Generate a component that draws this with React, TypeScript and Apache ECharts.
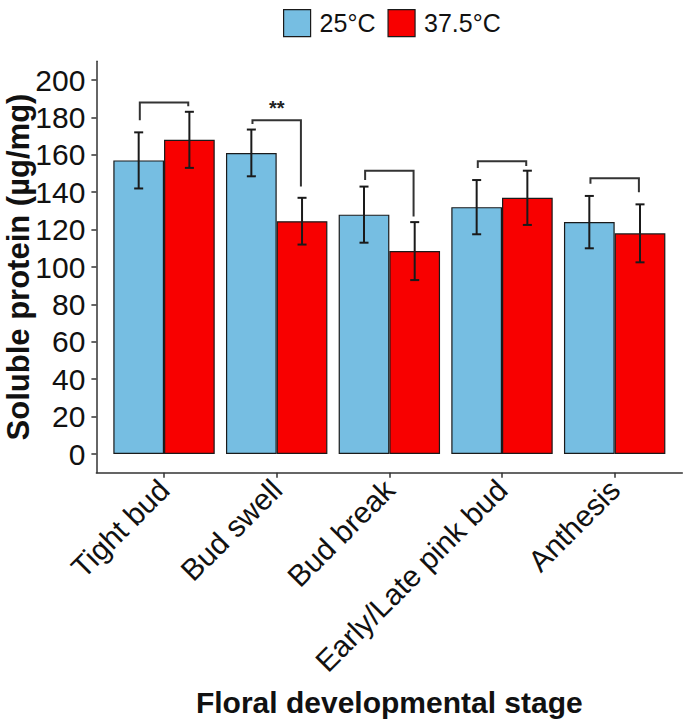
import React, { useEffect, useRef } from "react";
import * as echarts from "echarts";

const categories = ["Tight bud", "Bud swell", "Bud break", "Early/Late pink bud", "Anthesis"];
const seriesNames = ["25°C", "37.5°C"];
const mean25 = [157, 161, 128, 132, 124];
const sd25 = [15, 12.5, 15, 14.5, 14];
const mean375 = [168, 124.5, 108.5, 137, 118];
const sd375 = [15, 12.5, 15.5, 14.5, 15.5];
const bracketTop = [188, 178.5, 151.5, 156.5, 147.5];
const bracketLeftEnd = [178.5, 176.5, 146.5, 153, 144.5];
const bracketRightEnd = [186, 143, 127, 154, 140];
const sigLabels = ["", "**", "", "", ""];
const yTicks = [0, 20, 40, 60, 80, 100, 120, 140, 160, 180, 200];

const FONT = "'Liberation Sans', Arial, Helvetica, sans-serif";
const INK = "#111111";
const BLUE = "#76BEE2";
const RED = "#F80000";

function errorBarRenderer(offset: number) {
  return (params: any, api: any) => {
    const i = api.value(0);
    const m = api.value(1);
    const s = api.value(2);
    const band = api.size([1, 0])[0];
    const cx = api.coord([i, m])[0] + offset * band;
    const yTop = api.coord([i, m + s])[1];
    const yBot = api.coord([i, m - s])[1];
    const hw = 0.04 * band;
    const st = { stroke: "#1a1a1a", lineWidth: 2 };
    return {
      type: "group",
      children: [
        { type: "line", shape: { x1: cx, y1: yTop, x2: cx, y2: yBot }, style: st },
        { type: "line", shape: { x1: cx - hw, y1: yTop, x2: cx + hw, y2: yTop }, style: st },
        { type: "line", shape: { x1: cx - hw, y1: yBot, x2: cx + hw, y2: yBot }, style: st },
      ],
    };
  };
}

function bracketRenderer(params: any, api: any) {
  const i = api.value(0);
  const top = api.value(1);
  const le = api.value(2);
  const re = api.value(3);
  const band = api.size([1, 0])[0];
  const c = api.coord([i, top]);
  const xl = c[0] - 0.215 * band;
  const xr = c[0] + 0.215 * band;
  const yt = c[1];
  const yl = api.coord([i, le])[1];
  const yr = api.coord([i, re])[1];
  const label = sigLabels[params.dataIndex];
  const children: any[] = [
    {
      type: "polyline",
      shape: { points: [[xl, yl], [xl, yt], [xr, yt], [xr, yr]] },
      style: { stroke: "#333333", lineWidth: 2, fill: "none" },
    },
  ];
  if (label) {
    children.push({
      type: "text",
      x: (xl + xr) / 2,
      y: yt - 2,
      style: {
        text: label,
        fontSize: 20,
        fontWeight: "bold",
        fontFamily: FONT,
        fill: "#222222",
        align: "center",
        verticalAlign: "bottom",
      },
    });
  }
  return { type: "group", children };
}

export default function App() {
  const ref = useRef<HTMLDivElement>(null);

  useEffect(() => {
    if (!ref.current) return;
    const chart = echarts.init(ref.current, undefined, { renderer: "svg" });
    const axisLineStyle = { color: "#333333", width: 1.5 };
    const option: any = {
      animation: false,
      backgroundColor: "#ffffff",
      textStyle: { fontFamily: FONT },
      legend: {
        data: seriesNames,
        left: 278,
        top: 4,
        itemWidth: 27,
        itemHeight: 27,
        itemGap: 12,
        icon: "rect",
        itemStyle: { borderColor: "#1a1a1a", borderWidth: 1.2 },
        textStyle: { fontSize: 25, color: INK, fontFamily: FONT, padding: [0, 0, 0, 4] },
      },
      grid: [
        { left: 96.4, right: 2.7, top: 61.3, bottom: 251.3, containLabel: false, outerBoundsMode: "none" },
        { left: 107.7, right: 14.0, top: 61.3, bottom: 251.3, containLabel: false, outerBoundsMode: "none" },
      ],
      xAxis: [
        {
          gridIndex: 0,
          type: "value",
          min: 0,
          max: 1,
          axisLine: { show: true, onZero: false, lineStyle: axisLineStyle },
          axisTick: { show: false },
          axisLabel: { show: false },
          splitLine: { show: false },
          name: "Floral developmental stage",
          nameLocation: "middle",
          nameGap: 215,
          nameMoveOverlap: false,
          nameTextStyle: { fontSize: 30, fontWeight: "bold", color: INK, fontFamily: FONT },
        },
        {
          gridIndex: 1,
          type: "category",
          data: categories,
          axisLine: { show: false, onZero: false },
          axisTick: { show: true, alignWithLabel: true, length: 5, lineStyle: { color: "#333333", width: 1.5 } },
          axisLabel: {
            rotate: 45,
            fontSize: 30,
            color: INK,
            fontFamily: FONT,
            margin: 12,
            interval: 0,
          },
          splitLine: { show: false },
        },
      ],
      yAxis: [
        {
          gridIndex: 0,
          type: "value",
          min: -10,
          max: 210,
          axisLine: { show: true, onZero: false, lineStyle: axisLineStyle },
          axisTick: { show: true, length: 5, lineStyle: { color: "#333333", width: 1.5 }, customValues: yTicks },
          axisLabel: { fontSize: 30, color: INK, fontFamily: FONT, margin: 11, customValues: yTicks },
          splitLine: { show: false },
          name: "Soluble protein (µg/mg)",
          nameLocation: "middle",
          nameRotate: 90,
          nameGap: 62,
          nameMoveOverlap: false,
          nameTextStyle: { fontSize: 31, fontWeight: "bold", color: INK, fontFamily: FONT },
        },
        {
          gridIndex: 1,
          type: "value",
          min: -10,
          max: 210,
          show: false,
          axisLine: { onZero: false },
          splitLine: { show: false },
        },
      ],
      series: [
        {
          name: seriesNames[0],
          type: "bar",
          xAxisIndex: 1,
          yAxisIndex: 1,
          data: mean25,
          barGap: "0%",
          barCategoryGap: "10%",
          itemStyle: { color: BLUE, borderColor: "#1a1a1a", borderWidth: 1.2 },
        },
        {
          name: seriesNames[1],
          type: "bar",
          xAxisIndex: 1,
          yAxisIndex: 1,
          data: mean375,
          barGap: "0%",
          barCategoryGap: "10%",
          itemStyle: { color: RED, borderColor: "#1a1a1a", borderWidth: 1.2 },
        },
        {
          name: "err25",
          type: "custom",
          xAxisIndex: 1,
          yAxisIndex: 1,
          z: 5,
          renderItem: errorBarRenderer(-0.225),
          data: mean25.map((m, i) => [i, m, sd25[i]]),
        },
        {
          name: "err375",
          type: "custom",
          xAxisIndex: 1,
          yAxisIndex: 1,
          z: 5,
          renderItem: errorBarRenderer(0.225),
          data: mean375.map((m, i) => [i, m, sd375[i]]),
        },
        {
          name: "brackets",
          type: "custom",
          xAxisIndex: 1,
          yAxisIndex: 1,
          z: 6,
          renderItem: bracketRenderer,
          data: bracketTop.map((t, i) => [i, t, bracketLeftEnd[i], bracketRightEnd[i]]),
        },
      ],
    };
    chart.setOption(option);
    return () => chart.dispose();
  }, []);

  return (
    <div
      ref={ref}
      style={{ position: "fixed", left: 0, top: 0, width: 685, height: 724, background: "#fff" }}
    />
  );
}
